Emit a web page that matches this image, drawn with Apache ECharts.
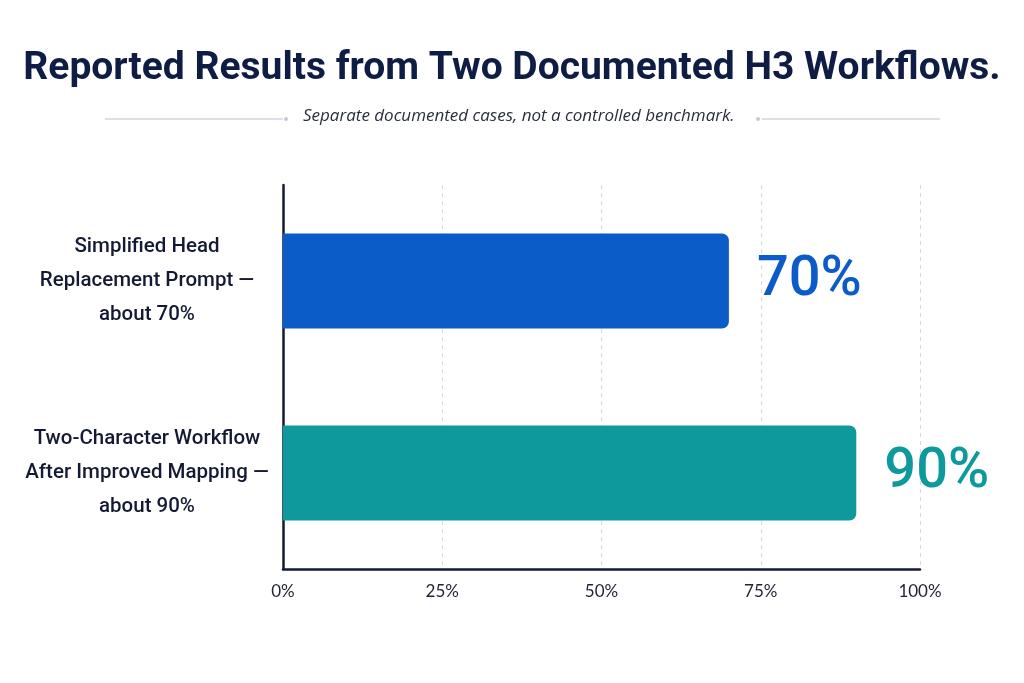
<!DOCTYPE html>
<html>
<head>
<meta charset="utf-8">
<title>Reported Results from Two Documented H3 Workflows</title>
<script src="https://cdn.jsdelivr.net/npm/echarts@6/dist/echarts.min.js"></script>
<style>
  html, body { margin: 0; padding: 0; background: #ffffff; }
  #chart { width: 1024px; height: 683px; }
</style>
</head>
<body>
<div id="chart"></div>
<script>
// Two documented workflows and their reported success rates

var categories = [
    'Simplified Head\nReplacement Prompt \u2014\nabout 70%',
    'Two-Character Workflow\nAfter Improved Mapping \u2014\nabout 90%'
];
var successRates = [70, 90];
var barColors = ['#0b5cc8', '#0e9a9c'];
var tickValues = [0, 25, 50, 75, 100];

var chart = echarts.init(document.getElementById('chart'));

var option = {
    backgroundColor: '#ffffff',
    title: {
        text: 'Reported Results from Two Documented H3 Workflows.',
        left: 'center',
        top: 45,
        textStyle: {
            fontFamily: 'Roboto',
            fontSize: 39,
            fontWeight: 'bold',
            color: '#0f1d45'
        }
    },
    graphic: [
        {
            type: 'text',
            left: 303,
            top: 108,
            style: {
                text: 'Separate documented cases, not a controlled benchmark.',
                font: 'italic 17px "Open Sans"',
                fill: '#2a2f3d'
            }
        },
        { type: 'line', shape: { x1: 105, y1: 119, x2: 283, y2: 119 }, style: { stroke: '#dde0e6', lineWidth: 2 } },
        { type: 'circle', shape: { cx: 286, cy: 119, r: 2 }, style: { fill: '#c5c9d2' } },
        { type: 'line', shape: { x1: 762, y1: 119, x2: 940, y2: 119 }, style: { stroke: '#dde0e6', lineWidth: 2 } },
        { type: 'circle', shape: { cx: 758, cy: 119, r: 2 }, style: { fill: '#c5c9d2' } }
    ],
    grid: {
        left: 283,
        right: 104,
        top: 185,
        bottom: 114,
        containLabel: false
    },
    xAxis: {
        type: 'value',
        min: 0,
        max: 100,
        interval: 25,
        axisLine: { show: true, lineStyle: { color: '#141a33', width: 2.5 } },
        axisTick: { show: false },
        axisLabel: {
            margin: 14,
            fontFamily: 'Lato',
            fontSize: 17,
            color: '#1f2333',
            formatter: function (v) {
                return tickValues.indexOf(v) >= 0 ? v + '%' : '';
            }
        },
        splitLine: {
            show: true,
            lineStyle: { color: '#d8dadf', type: [4, 4], width: 1 }
        }
    },
    yAxis: {
        type: 'category',
        inverse: true,
        data: categories,
        axisLine: { show: true, lineStyle: { color: '#141a33', width: 2.5 } },
        axisTick: { show: false },
        axisLabel: {
            align: 'center',
            margin: 136,
            fontFamily: 'Roboto',
            fontWeight: 500,
            fontSize: 20.5,
            lineHeight: 34,
            color: '#141a33'
        }
    },
    series: [
        {
            type: 'bar',
            barWidth: 95,
            data: successRates.map(function (v, i) {
                return { value: v, itemStyle: { color: barColors[i] } };
            }),
            itemStyle: { borderRadius: [0, 7, 7, 0] },
            label: {
                show: true,
                position: 'right',
                distance: 28,
                fontFamily: 'Roboto',
                fontWeight: 500,
                fontSize: 56,
                formatter: '{c}%',
                color: 'inherit'
            }
        }
    ]
};

chart.setOption(option);
</script>
</body>
</html>
